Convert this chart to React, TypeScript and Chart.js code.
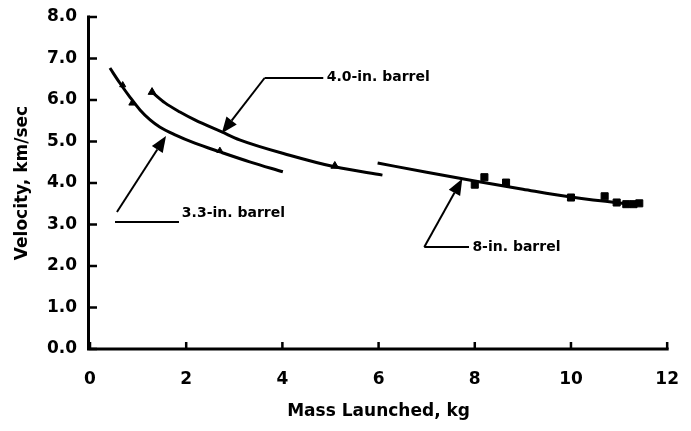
import React, { useEffect, useRef } from "react";
import { Chart, registerables } from "chart.js";

Chart.register(...registerables);

// Axis ticks
const xTickValues = [0, 2, 4, 6, 8, 10, 12];
const yTickValues = [0, 1, 2, 3, 4, 5, 6, 7, 8];

// 3.3-in. barrel fitted curve
const curve33X = [0.415, 0.62, 0.83, 1.04, 1.25, 1.45, 1.77, 2.18, 2.7, 3.32, 4.01];
const curve33Y = [6.77, 6.41, 6.07, 5.76, 5.52, 5.35, 5.16, 4.96, 4.75, 4.51, 4.27];
// 3.3-in. barrel data points
const pts33X = [0.68, 0.87, 2.7];
const pts33Y = [6.36, 5.92, 4.78];

// 4.0-in. barrel fitted curve
const curve40X = [1.29, 1.56, 1.87, 2.18, 2.74, 3.11, 4.15, 5.09, 6.08];
const curve40Y = [6.19, 5.93, 5.71, 5.52, 5.23, 5.04, 4.67, 4.39, 4.19];
// 4.0-in. barrel data points
const pts40X = [1.29, 5.09];
const pts40Y = [6.19, 4.41];

// 8-in. barrel fitted curve
const curve8X = [5.98, 7.0, 8.0, 9.0, 10.0, 11.0, 11.48];
const curve8Y = [4.48, 4.26, 4.05, 3.85, 3.66, 3.52, 3.47];
// 8-in. barrel data points
const pts8X = [8.0, 8.2, 8.65, 10.0, 10.7, 10.95, 11.15, 11.3, 11.42];
const pts8Y = [3.96, 4.14, 4.01, 3.65, 3.68, 3.53, 3.49, 3.49, 3.51];

// Callout labels (data units)
const calloutLabels = ["4.0-in. barrel", "3.3-in. barrel", "8-in. barrel"];
const calloutTextX = [4.92, 1.91, 7.95];
const calloutTextY = [6.55, 3.28, 2.46];
const calloutLineX0 = [3.63, 0.52, 6.95];
const calloutLineX1 = [4.85, 1.85, 7.88];
const calloutLineY = [6.53, 3.06, 2.46];
const calloutDiagX = [3.63, 0.56, 6.95];
const calloutDiagY = [6.53, 3.3, 2.46];
const calloutTipX = [2.74, 1.58, 7.74];
const calloutTipY = [5.2, 5.13, 4.1];

const zip = (xs: number[], ys: number[]) => xs.map((x, i) => ({ x, y: ys[i] }));

const FONT = "'DejaVu Sans', sans-serif";

const axesAndCalloutsPlugin = {
  id: "axesAndCallouts",
  afterDraw(chart: any) {
    const ctx = chart.ctx;
    const xs = chart.scales.x;
    const ys = chart.scales.y;
    const area = chart.chartArea;
    ctx.save();
    ctx.strokeStyle = "#000";
    ctx.fillStyle = "#000";
    // axis lines
    ctx.lineWidth = 3;
    ctx.lineCap = "square";
    ctx.beginPath();
    ctx.moveTo(area.left - 1.5, area.top);
    ctx.lineTo(area.left - 1.5, area.bottom);
    ctx.lineTo(area.right, area.bottom);
    ctx.stroke();
    // inner ticks
    ctx.lineCap = "butt";
    ctx.lineWidth = 2.5;
    ctx.beginPath();
    for (const v of yTickValues) {
      const py = ys.getPixelForValue(v);
      ctx.moveTo(area.left - 1.5, py);
      ctx.lineTo(area.left + 7, py);
    }
    for (const v of xTickValues) {
      const px = xs.getPixelForValue(v);
      ctx.moveTo(px, area.bottom);
      ctx.lineTo(px, area.bottom - 7);
    }
    ctx.stroke();

    // callouts
    ctx.lineWidth = 2;
    ctx.font = `bold 14px ${FONT}`;
    ctx.textBaseline = "middle";
    ctx.textAlign = "left";
    for (let i = 0; i < calloutLabels.length; i++) {
      const ly = ys.getPixelForValue(calloutLineY[i]);
      ctx.beginPath();
      ctx.moveTo(xs.getPixelForValue(calloutLineX0[i]), ly);
      ctx.lineTo(xs.getPixelForValue(calloutLineX1[i]), ly);
      ctx.stroke();
      const sx = xs.getPixelForValue(calloutDiagX[i]);
      const sy = ys.getPixelForValue(calloutDiagY[i]);
      const tx = xs.getPixelForValue(calloutTipX[i]);
      const ty = ys.getPixelForValue(calloutTipY[i]);
      const ang = Math.atan2(ty - sy, tx - sx);
      const headLen = 16;
      const headW = 6.5;
      const bx = tx - headLen * Math.cos(ang);
      const by = ty - headLen * Math.sin(ang);
      ctx.beginPath();
      ctx.moveTo(sx, sy);
      ctx.lineTo(bx, by);
      ctx.stroke();
      ctx.beginPath();
      ctx.moveTo(tx, ty);
      ctx.lineTo(bx + headW * Math.sin(ang), by - headW * Math.cos(ang));
      ctx.lineTo(bx - headW * Math.sin(ang), by + headW * Math.cos(ang));
      ctx.closePath();
      ctx.fill();
      ctx.fillText(
        calloutLabels[i],
        xs.getPixelForValue(calloutTextX[i]),
        ys.getPixelForValue(calloutTextY[i])
      );
    }
    ctx.restore();
  },
};

export default function App() {
  const canvasRef = useRef<HTMLCanvasElement | null>(null);

  useEffect(() => {
    if (!canvasRef.current) return;
    const curveStyle = {
      showLine: true,
      borderColor: "#000",
      borderWidth: 3,
      pointRadius: 0,
      fill: false,
      cubicInterpolationMode: "monotone" as const,
    };
    const chart = new Chart(canvasRef.current, {
      type: "scatter",
      data: {
        datasets: [
          { label: "3.3 curve", data: zip(curve33X, curve33Y), ...curveStyle },
          { label: "4.0 curve", data: zip(curve40X, curve40Y), ...curveStyle },
          { label: "8 curve", data: zip(curve8X, curve8Y), ...curveStyle },
          {
            label: "3.3 pts",
            data: zip(pts33X, pts33Y),
            pointStyle: "triangle",
            pointRadius: 3.5,
            backgroundColor: "#000",
            borderColor: "#000",
            borderWidth: 1,
          },
          {
            label: "4.0 pts",
            data: zip(pts40X, pts40Y),
            pointStyle: "triangle",
            pointRadius: 4.5,
            backgroundColor: "#000",
            borderColor: "#000",
            borderWidth: 1,
          },
          {
            label: "8 pts",
            data: zip(pts8X, pts8Y),
            pointStyle: "rect",
            pointRadius: 5,
            backgroundColor: "#000",
            borderColor: "#000",
            borderWidth: 1,
          },
        ],
      },
      options: {
        animation: false,
        responsive: true,
        maintainAspectRatio: false,
        layout: { padding: { top: 17, right: 23, left: 0, bottom: 0 } },
        plugins: { legend: { display: false }, tooltip: { enabled: false } },
        scales: {
          x: {
            type: "linear",
            min: 0,
            max: 12,
            afterFit: (s: any) => {
              s.height = 82;
            },
            afterBuildTicks: (s: any) => {
              s.ticks = xTickValues.map((v) => ({ value: v }));
            },
            ticks: {
              color: "#000",
              padding: 12,
              font: { family: FONT, size: 17, weight: "bold" },
              callback: (v: any) => String(v),
            },
            grid: { display: false },
            border: { display: false },
            title: {
              display: true,
              text: "Mass Launched, kg",
              color: "#000",
              font: { family: FONT, size: 17, weight: "bold" },
              padding: { top: 0, bottom: 9 },
            },
          },
          y: {
            type: "linear",
            min: 0,
            max: 8,
            afterFit: (s: any) => {
              s.width = 90;
              s.paddingTop = 0;
              s.paddingBottom = 0;
            },
            afterBuildTicks: (s: any) => {
              s.ticks = yTickValues.map((v) => ({ value: v }));
            },
            ticks: {
              color: "#000",
              padding: 5,
              font: { family: FONT, size: 17, weight: "bold" },
              callback: (v: any) => Number(v).toFixed(1),
            },
            grid: { display: false },
            border: { display: false },
            title: {
              display: true,
              text: "Velocity, km/sec",
              color: "#000",
              font: { family: FONT, size: 17, weight: "bold" },
              padding: { top: 12, bottom: 0 },
            },
          },
        },
      },
      plugins: [axesAndCalloutsPlugin],
    });
    return () => chart.destroy();
  }, []);

  return (
    <div
      style={{
        position: "absolute",
        left: 0,
        top: 0,
        width: 691,
        height: 431,
        background: "#fff",
      }}
    >
      <canvas ref={canvasRef} />
    </div>
  );
}
